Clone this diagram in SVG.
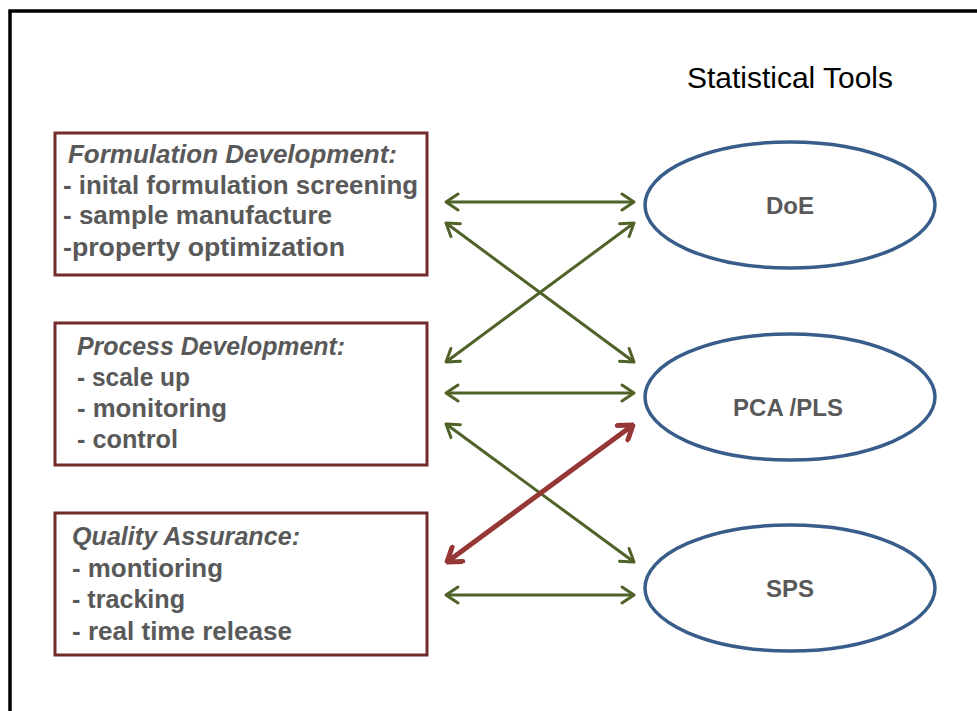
<svg xmlns="http://www.w3.org/2000/svg" width="977" height="711" viewBox="0 0 977 711">
<defs>
<style>
.box{fill:#fff;stroke:#722b2b;stroke-width:3}
.ell{fill:#fff;stroke:#385d8a;stroke-width:3.5}
.t{font-family:"Liberation Sans",Arial,sans-serif;font-weight:bold;font-size:25px;fill:#595959}
.ti{font-style:italic}
.c{text-anchor:middle;font-size:24px}
.g{stroke:#4f6228;stroke-width:3;fill:none;marker-start:url(#ag);marker-end:url(#ag)}
.r{stroke:#953735;stroke-width:5;fill:none;marker-start:url(#ar);marker-end:url(#ar)}
</style>
<marker id="ag" viewBox="-14 -10 16 20" markerWidth="16" markerHeight="20" refX="0" refY="0" markerUnits="userSpaceOnUse" orient="auto-start-reverse">
<path d="M-12,-8 L0,0 L-12,8" fill="none" stroke="#4f6228" stroke-width="3" stroke-linecap="round" stroke-linejoin="round"/>
</marker>
<marker id="ar" viewBox="-16 -11 18 22" markerWidth="18" markerHeight="22" refX="0" refY="0" markerUnits="userSpaceOnUse" orient="auto-start-reverse">
<path d="M-13,-9 L0,0 L-13,9" fill="none" stroke="#953735" stroke-width="5" stroke-linecap="round" stroke-linejoin="round"/>
</marker>
</defs>
<rect width="977" height="711" fill="#fff"/>
<path d="M10,711 V11 H977" fill="none" stroke="#000" stroke-width="3.5"/>
<text x="687" y="88" font-family="'Liberation Sans',Arial,sans-serif" font-size="29" fill="#000" textLength="206" lengthAdjust="spacingAndGlyphs">Statistical Tools</text>

<g id="formulation">
<rect class="box" x="55" y="133" width="372" height="142"/>
<text class="t ti" x="68" y="163" textLength="329" lengthAdjust="spacingAndGlyphs">Formulation Development:</text>
<text class="t" x="63" y="194" textLength="355" lengthAdjust="spacingAndGlyphs">- inital formulation screening</text>
<text class="t" x="63" y="224" textLength="269" lengthAdjust="spacingAndGlyphs">- sample manufacture</text>
<text class="t" x="63" y="256" textLength="282" lengthAdjust="spacingAndGlyphs">-property optimization</text>
</g>
<g id="process">
<rect class="box" x="55" y="323" width="372" height="142"/>
<text class="t ti" x="77" y="355" textLength="268" lengthAdjust="spacingAndGlyphs">Process Development:</text>
<text class="t" x="77" y="386" textLength="113" lengthAdjust="spacingAndGlyphs">- scale up</text>
<text class="t" x="77" y="417" textLength="150" lengthAdjust="spacingAndGlyphs">- monitoring</text>
<text class="t" x="77" y="448" textLength="101" lengthAdjust="spacingAndGlyphs">- control</text>
</g>
<g id="quality">
<rect class="box" x="55" y="513" width="372" height="142"/>
<text class="t ti" x="72" y="545" textLength="228" lengthAdjust="spacingAndGlyphs">Quality Assurance:</text>
<text class="t" x="72" y="577" textLength="151" lengthAdjust="spacingAndGlyphs">- montioring</text>
<text class="t" x="72" y="608" textLength="113" lengthAdjust="spacingAndGlyphs">- tracking</text>
<text class="t" x="72" y="640" textLength="220" lengthAdjust="spacingAndGlyphs">- real time release</text>
</g>
<g id="doe">
<ellipse class="ell" cx="790" cy="205" rx="145" ry="63"/>
<text class="t c" x="790" y="214">DoE</text>
</g>
<g id="pcapls">
<ellipse class="ell" cx="790" cy="397" rx="145" ry="63"/>
<text class="t c" x="788" y="416">PCA /PLS</text>
</g>
<g id="sps">
<ellipse class="ell" cx="790" cy="588" rx="145" ry="63"/>
<text class="t c" x="790" y="597">SPS</text>
</g>
<g id="connectors">
<line class="g" x1="446" y1="202" x2="634" y2="202"/>
<line class="g" x1="446" y1="223" x2="634" y2="362"/>
<line class="g" x1="446" y1="362" x2="634" y2="223"/>
<line class="g" x1="446" y1="393" x2="634" y2="393"/>
<line class="g" x1="446" y1="424" x2="634" y2="562"/>
<line class="r" x1="447" y1="562" x2="633" y2="425"/>
<line class="g" x1="446" y1="595" x2="634" y2="595"/>
</g>
</svg>
